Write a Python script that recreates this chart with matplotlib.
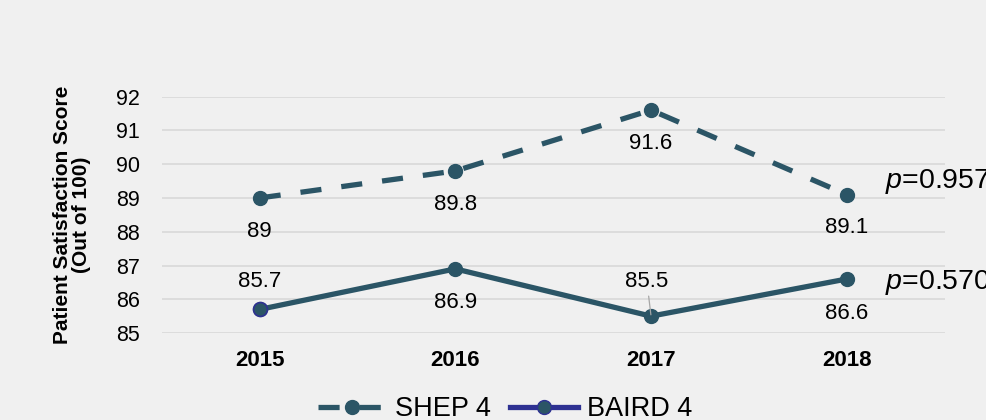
import matplotlib.pyplot as plt

plt.rcParams['font.family'] = ['Liberation Sans', 'DejaVu Sans']
plt.rcParams['mathtext.fontset'] = 'custom'
plt.rcParams['mathtext.it'] = 'Liberation Sans:italic'
plt.rcParams['mathtext.rm'] = 'Liberation Sans'

years = ['2015', '2016', '2017', '2018']
shep = [89.0, 89.8, 91.6, 89.1]
baird = [85.7, 86.9, 85.5, 86.6]
shep_labels = ['89', '89.8', '91.6', '89.1']
baird_labels = ['85.7', '86.9', '85.5', '86.6']
p_values = ['0.957', '0.570']

teal = '#2b5566'
navy = '#2e3192'
bg = '#f0f0f0'

fig = plt.figure(figsize=(9.87, 4.2), dpi=100, facecolor=bg)
ax = fig.add_axes([0.164, 0.207, 0.793, 0.563], facecolor=bg)
x = list(range(len(years)))

ax.plot(x, shep, color=teal, lw=3.8, ls=(0, (4.0, 3.8)), marker='o', ms=10,
        label='SHEP 4', zorder=3, clip_on=False)
ax.plot(x, baird, color=teal, lw=3.8, marker='o', ms=10,
        label='_nolegend_', zorder=3, clip_on=False)
ax.plot(x[0], baird[0], 'o', ms=10, mfc=teal, mec=navy, mew=1.2, zorder=4)
# legend entry for BAIRD 4
ax.plot([], [], color=navy, lw=3.8, marker='o', ms=10, mfc=teal, mec=navy,
        label='BAIRD 4')

# data labels
for i, v in enumerate(shep):
    ax.annotate(shep_labels[i], (i, v), xytext=(0, -24), textcoords='offset points',
                ha='center', va='center', fontsize=16)
offsets = [20, -24.5, 25, -25]
for i, v in enumerate(baird):
    if i == 2:
        ax.annotate(baird_labels[i], (i, v), xytext=(-3, offsets[i]), textcoords='offset points',
                    ha='center', va='center', fontsize=16, zorder=6,
                    arrowprops=dict(arrowstyle='-', color='#a6a6a6', lw=0.9,
                                    shrinkA=1, shrinkB=1))
    else:
        ax.annotate(baird_labels[i], (i, v), xytext=(0, offsets[i]), textcoords='offset points',
                    ha='center', va='center', fontsize=16)

# p-values
ax.text(3.195, shep[3] + 0.4, '$p$=' + p_values[0], fontsize=20.5, va='center', ha='left',
        clip_on=False)
ax.text(3.195, baird[3] - 0.1, '$p$=' + p_values[1], fontsize=20.5, va='center', ha='left',
        clip_on=False)

ax.set_xlim(-0.5, 3.5)
ax.set_ylim(85, 92)
ax.set_yticks(range(85, 93))
ax.set_xticks(x)
ax.set_xticklabels(years, fontweight='bold', fontsize=16)
ax.tick_params(axis='y', labelsize=15.5, length=0, pad=16)
ax.tick_params(axis='x', length=0, pad=12)
ax.grid(axis='y', color='#d9d9d9', lw=1.2)
ax.set_axisbelow(True)
for s in ax.spines.values():
    s.set_visible(False)
ax.set_ylabel('Patient Satisfaction Score\n(Out of 100)', fontweight='bold', fontsize=15,
              linespacing=1.0, labelpad=18)

fig.legend(*ax.get_legend_handles_labels(), loc='center', bbox_to_anchor=(0.512, 0.025),
           ncol=2, frameon=False, fontsize=19.5, handlelength=2.5, columnspacing=0.7,
           handletextpad=0.35)

fig.savefig('out.png', dpi=100, facecolor=bg)
